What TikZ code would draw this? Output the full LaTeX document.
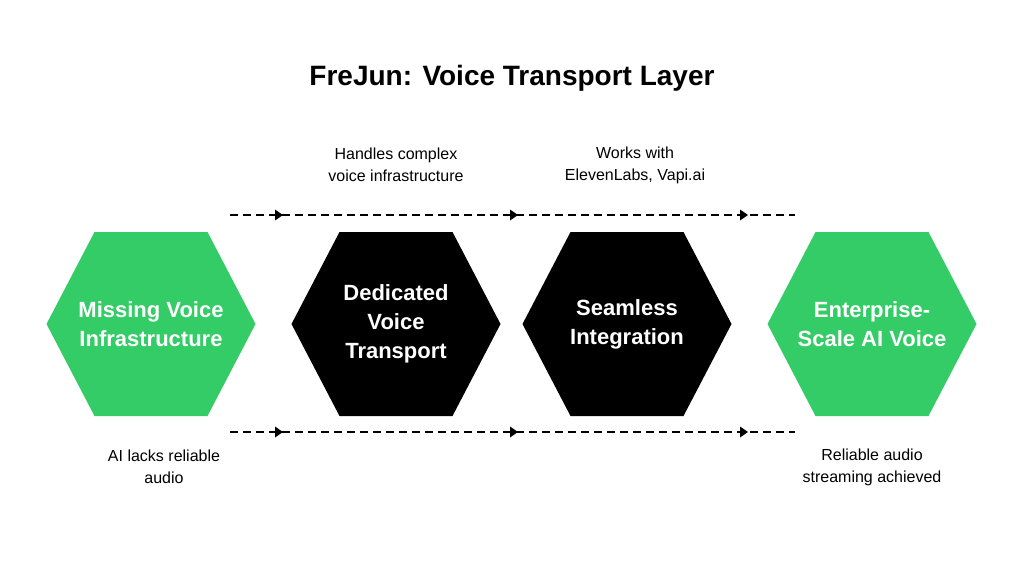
\documentclass[tikz,border=0pt]{standalone}
\usepackage{fontspec}
\setmainfont{Liberation Sans}
\usetikzlibrary{arrows.meta,decorations.markings}
\definecolor{hgreen}{HTML}{33CC66}
\begin{document}
\begin{tikzpicture}[x=1pt,y=-1pt,
  hexlabel/.style={font=\fontsize{22}{29}\selectfont\bfseries,align=center,text=white},
  note/.style={font=\fontsize{16}{22}\selectfont,align=center},
  flow/.style={dash pattern=on 8pt off 5pt,line width=1.6pt}]
\useasboundingbox (0,0) rectangle (1024,562);
\fill[white] (0,0) rectangle (1024,562);
\node[font=\fontsize{28}{32}\selectfont\bfseries] (title) at (512,78) {FreJun: Voice Transport Layer};
\foreach \n/\cx/\col in {h1/151/hgreen,h2/396/black,h3/627/black,h4/872/hgreen}{
  \fill[\col] (\cx-104.5,324) -- (\cx-56.5,232) -- (\cx+56.5,232) -- (\cx+104.5,324) -- (\cx+56.5,416) -- (\cx-56.5,416) -- cycle;
  \coordinate (\n) at (\cx,324);
}
\node[hexlabel] (t1) at (h1) {Missing Voice\\Infrastructure};
\node[hexlabel] (t2) at (h2) {Dedicated\\Voice\\Transport};
\node[hexlabel] (t3) at (h3) {Seamless\\Integration};
\node[hexlabel] (t4) at (h4) {Enterprise-\\Scale AI Voice};
\node[note] (n1) at (396,165) {Handles complex\\voice infrastructure};
\node[note] (n2) at (635,165) {Works with\\ElevenLabs, Vapi.ai};
\node[note] (n3) at (164,467) {AI lacks reliable\\audio};
\node[note] (n4) at (872,467) {Reliable audio\\streaming achieved};
\foreach \y/\k in {215/a,432/b}{
  \coordinate (s\k) at (230,\y);
  \coordinate (e\k) at (795,\y);
  \draw[flow] (s\k) -- (e\k);
  \foreach \ax in {283,518,748}
    \fill (\ax,\y) -- (\ax-8,\y-5.5) -- (\ax-8,\y+5.5) -- cycle;
}
\end{tikzpicture}
\end{document}
